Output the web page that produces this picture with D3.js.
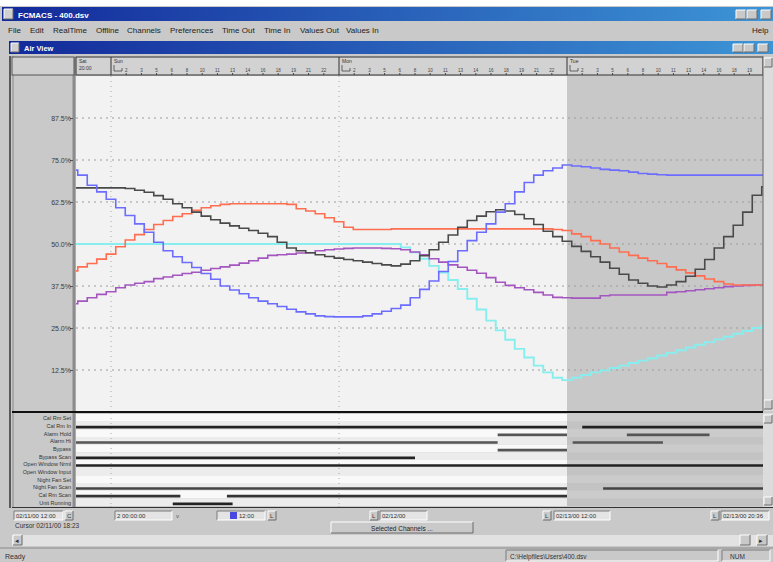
<!DOCTYPE html>
<html>
<head>
<meta charset="utf-8">
<script src="https://cdn.jsdelivr.net/npm/d3@7"></script>
<style>
body { margin: 0; background: #fff; }
</style>
</head>
<body>
<script>
var W = 773, H = 562;

// analog channels, one sample per hour from Sat 20:00 (h = -4) to Wed 22:00, values in % of span
var hours = [-4,-3,-2,-1,0,1,2,3,4,5,6,7,8,9,10,11,12,13,14,15,16,17,18,19,20,21,22,23,24,25,
  26,27,28,29,30,31,32,33,34,35,36,37,38,39,40,41,42,43,44,45,46,47,48,49,50,51,52,53,54,55,
  56,57,58,59,60,61,62,63,64,65,66,67,68,69,70];
var blueVals = [72,70.5,67.5,65.5,63.3,60.8,58.5,56,53.5,50.5,
  48,46.2,44.5,43,41.2,39.5,37.5,36.3,35.2,34,
  33,32.2,31.4,30.6,29.8,29.2,28.6,28.4,28.3,28.3,
  28.3,28.6,29.2,30,30.8,31.8,34,36.5,39,41.8,
  44.8,48,51,53.5,56,59.5,62,65.5,68.3,70.5,
  71.8,72.6,73.5,73.2,73,72.6,72.2,72,71.8,71.4,
  71,70.8,70.6,70.5,70.5,70.5,70.5,70.5,70.5,70.5,
  70.5,70.5,70.5,70.5,70.5];
var blackVals = [66.7,66.7,66.7,66.7,66.7,66.7,66.5,66,65.4,64.4,
  63.3,62,60.8,59.5,58.3,57.2,56.2,55.4,54.7,54,
  53.2,52.2,50.5,48.8,48,47.4,46.8,46.3,45.8,45.4,
  45,44.6,44.2,43.8,43.5,44,45,46.5,48.3,50.5,
  52.7,55,57,58.3,59.6,60.2,59.8,58.8,57.5,55.8,
  53.8,52.2,50.8,49.3,47.8,46.2,44.6,42.8,41,39.3,
  38.3,37.5,37.2,37.8,38.8,40.4,42.5,45.4,48.8,52.2,
  55.6,59.5,64.5,67,67.5];
var redVals = [42,43.2,44.2,45.5,47,49.2,51.2,52.8,54.3,55.8,
  57,58.2,59,60,60.8,61.4,61.8,62,62,62,
  62,62,62,61.8,60.5,59.8,59,57.8,56.6,55,
  54.3,54.3,54.3,54.3,54.5,54.5,54.5,54.5,54.5,54.5,
  54.5,54.5,54.5,54.5,54.5,54.5,54.5,54.5,54.5,54.5,
  54.5,54.3,54,53,52.2,51,50,48.8,47.6,46.6,
  45.8,45,44.2,43.2,42.3,41.4,40.5,39.6,38.8,38.1,
  37.8,37.8,37.8,37.8,37.8];
var purpleVals = [32.2,33,34,35,35.8,37,37.8,38.3,38.8,39.7,
  40.2,40.7,41.2,41.6,42.2,42.7,43.2,43.7,44.3,45,
  45.8,46.6,46.8,47,47.3,47.4,48,48.3,48.5,48.7,
  48.8,48.8,48.8,48.7,48.6,48.3,47.6,46.8,45.6,44.6,
  43.8,43.1,42.2,41.3,40,38.6,37.7,37,36.4,35.6,
  34.8,34.1,34,33.9,33.9,33.9,34.6,34.8,34.8,34.8,
  34.8,34.8,34.8,35.6,35.8,36.1,36.4,36.7,37,37.3,
  37.5,37.7,37.8,37.8,37.8];
var cyanVals = [50,50,50,50,50,50,50,50,50,50,
  50,50,50,50,50,50,50,50,50,50,
  50,50,50,50,50,50,50,50,50,50,
  50,50,50,50,50,49,47.5,45.6,43.5,41.5,
  39.3,36.6,33.7,30.5,27.2,24.3,21.5,18.8,16.2,13.8,
  11.8,10.2,9.5,10.2,11,11.8,12.4,13.1,13.8,14.6,
  15.3,16,16.8,17.6,18.4,19.2,20,20.8,21.6,22.4,
  23.3,24.1,25,25.8,26.5];

var seriesNames = ["Cal Rm Temp", "Supply Air", "Return Air", "Mixed Air", "Outside Air"];
var seriesColors = ["#86eeee", "#a456c0", "#ff6e50", "#4a4a4a", "#6c6cff"];

var yTicks = [12.5, 25, 37.5, 50, 62.5, 75, 87.5];
var yTickLabels = ["12.5%", "25.0%", "37.5%", "50.0%", "62.5%", "75.0%", "87.5%"];

var dayNames = ["Sun", "Mon", "Tue"];
var dayHours = [0, 24, 48];
var hourTicks = [1.6,3.2,4.8,6.4,8,9.6,11.2,12.8,14.4,16,17.6,19.2,20.8,22.4];
var hourLabels = ["2","3","5","6","8","10","11","13","14","16","18","19","21","22"];
var shadeFrom = 48;

// digital channels: on-intervals in hours
var digitalLabels = ["Cal Rm Set", "Cal Rm In", "Alarm Hold", "Alarm Hi", "Bypass", "Bypass Scan",
  "Open Window Nrml", "Open Window Input", "Night Fan Set", "Night Fan Scan", "Cal Rm Scan", "Unit Running"];
var digitalOn = [
  [],
  [[-4, 48], [49.6, 70]],
  [[40.7, 48], [54.3, 63]],
  [[-4, 40.7], [48.6, 58.1]],
  [[40.7, 48]],
  [[-4, 32]],
  [[-4, 70]],
  [],
  [],
  [[-4, 48], [51.8, 70]],
  [[-4, 7.3], [12.2, 48]],
  [[6.5, 12.8]]
];
var digitalColors = ["#222","#222","#555","#555","#555","#222","#222","#222","#222","#444","#333","#222"];

var menuItems = ["File", "Edit", "RealTime", "Offline", "Channels", "Preferences", "Time Out", "Time In", "Values Out", "Values In"];
var menuX = [8, 30, 53, 96, 127, 170, 222, 264, 300, 346];

var svg = d3.select("body").append("svg")
  .attr("width", W)
  .attr("height", H)
  .style("font-family", "'Liberation Sans', Arial, sans-serif");

var defs = svg.append("defs");
var grad = defs.append("linearGradient").attr("id", "tb");
grad.append("stop").attr("offset", "0%").attr("stop-color", "#13299a");
grad.append("stop").attr("offset", "100%").attr("stop-color", "#3d95d6");

var x = d3.scaleLinear().domain([-35 / 9.5, 652 / 9.5]).range([76, 763]);
var y = d3.scaleLinear().domain([0, 100]).range([412, 76]);
var row = d3.scaleBand().domain(d3.range(digitalLabels.length)).range([414, 506]);

defs.append("clipPath").attr("id", "plotClip").append("rect")
  .attr("x", 76).attr("y", 76).attr("width", 687).attr("height", 335);
defs.append("clipPath").attr("id", "digClip").append("rect")
  .attr("x", 76).attr("y", 413).attr("width", 687).attr("height", 94);

// helpers for the win95 look
function bevel(g, x0, y0, w, h, sunken, fill) {
  g.append("rect").attr("x", x0).attr("y", y0).attr("width", w).attr("height", h).attr("fill", fill || "#c9c9c9");
  var lt = sunken ? "#7a7a7a" : "#ffffff", rb = sunken ? "#ffffff" : "#6a6a6a";
  g.append("path").attr("d", "M" + x0 + "," + (y0 + h) + "V" + y0 + "H" + (x0 + w)).attr("fill", "none").attr("stroke", lt);
  g.append("path").attr("d", "M" + (x0 + w) + "," + y0 + "V" + (y0 + h) + "H" + x0).attr("fill", "none").attr("stroke", rb);
}
function label(g, tx, ty, str, size, fill, anchor, weight) {
  return g.append("text").attr("x", tx).attr("y", ty).text(str)
    .attr("font-size", size).attr("fill", fill || "#222")
    .attr("text-anchor", anchor || "start").attr("font-weight", weight || "normal");
}

// window background
svg.append("rect").attr("width", W).attr("height", H).attr("fill", "#c9c9c9");
svg.append("rect").attr("width", W).attr("height", 6).attr("fill", "#ffffff");

// main title bar
svg.append("rect").attr("x", 2).attr("y", 7).attr("width", W - 2).attr("height", 14).attr("fill", "url(#tb)");
bevel(svg, 4, 9, 9, 10, false, "#d0d0d0");
label(svg, 18, 18, "FCMACS - 400.dsv", 8, "#fff", "start", "bold");
[736, 747, 761].forEach(function(bx) { bevel(svg, bx, 10, 10, 9, false); });

// menu bar
menuItems.forEach(function(m, i) { label(svg, menuX[i], 33, m, 8, "#222"); });
label(svg, 752, 33, "Help", 8, "#222");

// child window
svg.append("rect").attr("x", 8).attr("y", 38).attr("width", 765).attr("height", 509).attr("fill", "#c9c9c9");
svg.append("rect").attr("x", 9).attr("y", 41).attr("width", 764).attr("height", 13).attr("fill", "url(#tb)");
bevel(svg, 11, 43, 8, 9, false, "#d0d0d0");
label(svg, 24, 51, "Air View", 7.5, "#fff", "start", "bold");
[733, 744, 758].forEach(function(bx) { bevel(svg, bx, 44, 10, 8, false); });

// left label panel
svg.append("rect").attr("x", 12).attr("y", 57).attr("width", 63).attr("height", 450).attr("fill", "#c9c9c9");
svg.append("line").attr("x1", 10).attr("x2", 10).attr("y1", 56).attr("y2", 508).attr("stroke", "#333").attr("stroke-width", 1.5);
svg.append("line").attr("x1", 13).attr("x2", 13).attr("y1", 56).attr("y2", 508).attr("stroke", "#888");
svg.append("line").attr("x1", 74).attr("x2", 74).attr("y1", 57).attr("y2", 508).attr("stroke", "#8c8c8c").attr("stroke-width", 3);

// ruler
var ruler = svg.append("g");
ruler.append("rect").attr("x", 76).attr("y", 57).attr("width", 687).attr("height", 18)
  .attr("fill", "#d2d2d2").attr("stroke", "#333");
ruler.append("rect").attr("x", 12).attr("y", 57).attr("width", 62).attr("height", 18)
  .attr("fill", "#cfcfcf").attr("stroke", "#555");
label(ruler, 79, 63, "Sat", 5, "#333");
label(ruler, 79, 70, "20:00", 5, "#333");
dayHours.forEach(function(dh, i) {
  var dx = x(dh);
  ruler.append("line").attr("x1", dx).attr("x2", dx).attr("y1", 57).attr("y2", 75).attr("stroke", "#333");
  label(ruler, dx + 3, 63, dayNames[i], 5, "#333");
  ruler.append("path").attr("d", "M" + (dx + 3) + ",65V71H" + (dx + 11) + "V68")
    .attr("fill", "none").attr("stroke", "#444").attr("stroke-width", 0.8);
  hourTicks.forEach(function(t, k) {
    if (dh + t > 68.5) return;
    var tx = x(dh + t);
    ruler.append("line").attr("x1", tx).attr("x2", tx).attr("y1", 73).attr("y2", 75).attr("stroke", "#444");
    label(ruler, tx, 72, hourLabels[k], 4.5, "#444", "middle");
  });
});

// plot background
var plot = svg.append("g");
plot.append("rect").attr("x", 76).attr("y", 76).attr("width", 687).attr("height", 335).attr("fill", "#f2f2f2");
plot.append("rect").attr("x", x(shadeFrom)).attr("y", 76).attr("width", 763 - x(shadeFrom)).attr("height", 335).attr("fill", "#c8c8c8");

// grid
plot.selectAll(".hgrid").data(yTicks).enter().append("line")
  .attr("x1", 76).attr("x2", 763)
  .attr("y1", function(d) { return y(d); }).attr("y2", function(d) { return y(d); })
  .attr("stroke", "#9c9c9c").attr("stroke-dasharray", "2,4");
[0, 24].forEach(function(dh) {
  plot.append("line").attr("x1", x(dh)).attr("x2", x(dh)).attr("y1", 76).attr("y2", 507)
    .attr("stroke", "#aaa").attr("stroke-dasharray", "1,4");
});

// y labels
var yAxis = svg.append("g").attr("transform", "translate(73,0)")
  .call(d3.axisLeft(y).tickValues(yTicks).tickSize(3)
    .tickFormat(function(d, i) { return yTickLabels[i]; }));
yAxis.select(".domain").remove();
yAxis.selectAll("text").attr("font-size", 7).attr("fill", "#3a3a3a").attr("font-family", "'Liberation Sans', Arial, sans-serif").attr("x", -2);
yAxis.selectAll("line").attr("stroke", "#555");

// analog lines
var allVals = [cyanVals, purpleVals, redVals, blackVals, blueVals];
var line = d3.line()
  .x(function(d, i) { return x(hours[i]); })
  .y(function(d) { return y(d); })
  .curve(d3.curveStep);
var lines = svg.append("g").attr("clip-path", "url(#plotClip)");
lines.selectAll("path").data(allVals).enter().append("path")
  .attr("d", line)
  .attr("fill", "none")
  .attr("stroke", function(d, i) { return seriesColors[i]; })
  .attr("stroke-width", function(d, i) { return i == 0 ? 1.9 : 1.6; })
  .attr("class", function(d, i) { return seriesNames[i]; });

// right scrollbar (analog)
svg.append("rect").attr("x", 763).attr("y", 57).attr("width", 10).attr("height", 354).attr("fill", "#dcdcdc");
bevel(svg, 764, 58, 8, 9, false);
bevel(svg, 764, 400, 8, 9, false);
svg.append("line").attr("x1", 763).attr("x2", 763).attr("y1", 57).attr("y2", 411).attr("stroke", "#666");

// digital panel
var dig = svg.append("g");
dig.selectAll(".stripe").data(digitalLabels).enter().append("rect")
  .attr("x", 76).attr("y", function(d, i) { return row(i); })
  .attr("width", x(shadeFrom) - 76).attr("height", row.bandwidth())
  .attr("fill", function(d, i) { return i % 2 ? "#ececec" : "#f9f9f9"; });
dig.selectAll(".stripe2").data(digitalLabels).enter().append("rect")
  .attr("x", x(shadeFrom)).attr("y", function(d, i) { return row(i); })
  .attr("width", 763 - x(shadeFrom)).attr("height", row.bandwidth())
  .attr("fill", function(d, i) { return i % 2 ? "#c3c3c3" : "#cbcbcb"; });
[0, 24].forEach(function(dh) {
  dig.append("line").attr("x1", x(dh)).attr("x2", x(dh)).attr("y1", 413).attr("y2", 507)
    .attr("stroke", "#aaa").attr("stroke-dasharray", "1,4");
});
dig.selectAll(".dlab").data(digitalLabels).enter().append("text")
  .attr("x", 71).attr("y", function(d, i) { return row(i) + row.bandwidth() - 1.5; })
  .attr("text-anchor", "end").attr("font-size", 5.5).attr("fill", "#333")
  .text(function(d) { return d; });
var bars = dig.append("g").attr("clip-path", "url(#digClip)");
digitalOn.forEach(function(spans, i) {
  bars.selectAll(".r" + i).data(spans).enter().append("line")
    .attr("x1", function(d) { return x(d[0]); }).attr("x2", function(d) { return x(d[1]); })
    .attr("y1", row(i) + 5.5).attr("y2", row(i) + 5.5)
    .attr("stroke", digitalColors[i]).attr("stroke-width", 2.6);
});
svg.append("line").attr("x1", 12).attr("x2", 763).attr("y1", 412).attr("y2", 412).attr("stroke", "#111").attr("stroke-width", 2);
svg.append("line").attr("x1", 12).attr("x2", 773).attr("y1", 507.5).attr("y2", 507.5).attr("stroke", "#333");
svg.append("rect").attr("x", 763).attr("y", 413).attr("width", 10).attr("height", 94).attr("fill", "#dcdcdc");
bevel(svg, 764, 415, 8, 8, false);
bevel(svg, 764, 497, 8, 8, false);

// time entry controls
var ctl = svg.append("g");
function timeBox(bx, w, str) {
  bevel(ctl, bx, 511, w, 9, true, "#e4e4e4");
  label(ctl, bx + 2, 518, str, 6, "#333");
}
timeBox(14, 49, "02/11/00 12:00");
bevel(ctl, 65, 511, 8, 9, false); label(ctl, 67, 518, "C", 6, "#333");
timeBox(115, 57, "2  00:00:00");
label(ctl, 176, 518, "v", 6, "#555");
timeBox(217, 48, "");
ctl.append("rect").attr("x", 230).attr("y", 512).attr("width", 7).attr("height", 7).attr("fill", "#4848e0");
label(ctl, 239, 518, "12:00", 6, "#333");
bevel(ctl, 268, 511, 8, 9, false); label(ctl, 270, 518, "L", 6, "#333");
bevel(ctl, 370, 511, 8, 9, false); label(ctl, 372, 518, "L", 6, "#333");
timeBox(380, 47, "02/12/00");
bevel(ctl, 543, 511, 8, 9, false); label(ctl, 545, 518, "L", 6, "#333");
timeBox(554, 56, "02/13/00 12:00");
bevel(ctl, 711, 511, 8, 9, false); label(ctl, 713, 518, "L", 6, "#333");
timeBox(721, 48, "02/13/00 20:36");
label(ctl, 15, 528, "Cursor   02/11/00   18:23", 6.5, "#333");
bevel(ctl, 331, 522, 142, 11, false);
label(ctl, 402, 530.5, "Selected Channels ...", 6.5, "#222", "middle");

// horizontal scrollbar
svg.append("rect").attr("x", 12).attr("y", 535).attr("width", 761).attr("height", 11).attr("fill", "#e2e2e2");
bevel(svg, 13, 535, 9, 10, false); label(svg, 15, 543, "\u25c2", 7, "#333");
bevel(svg, 740, 535, 10, 10, false);
bevel(svg, 757, 535, 10, 10, false); label(svg, 759, 543, "\u25b8", 7, "#333");

// status bar
svg.append("rect").attr("x", 0).attr("y", 548).attr("width", W).attr("height", 14).attr("fill", "#c9c9c9");
svg.append("line").attr("x1", 0).attr("x2", W).attr("y1", 548).attr("y2", 548).attr("stroke", "#888");
label(svg, 5, 559, "Ready", 7, "#333");
bevel(svg, 506, 550, 212, 11, true);
label(svg, 510, 558.5, "C:\\Helpfiles\\Users\\400.dsv", 6.5, "#333");
bevel(svg, 722, 550, 48, 11, true);
label(svg, 730, 558.5, "NUM", 6.5, "#333");
</script>
</body>
</html>
